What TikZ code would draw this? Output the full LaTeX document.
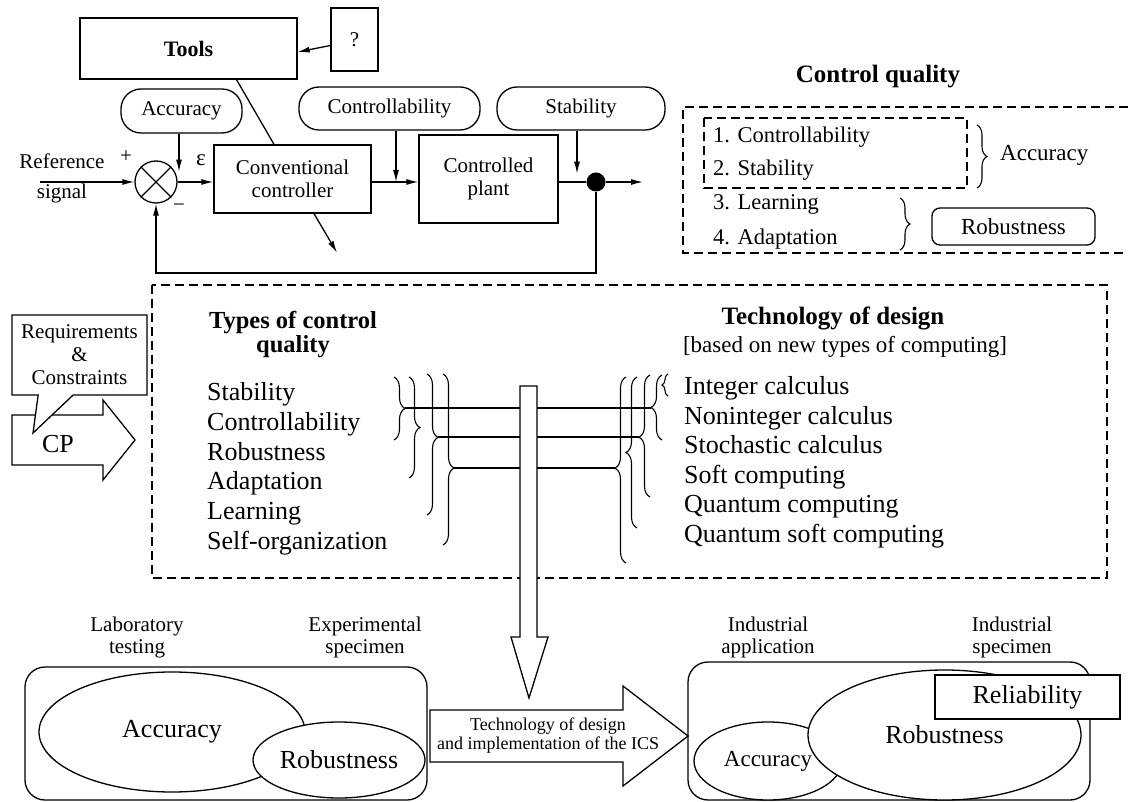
\documentclass[tikz,border=0pt]{standalone}
\usepackage{fontspec}
\setmainfont{Liberation Serif}
\usetikzlibrary{arrows.meta,positioning,shapes.geometric,shapes.callouts,decorations.pathreplacing}
\tikzstyle{block} = [rectangle, draw=black, line width=1.3pt, fill=white, text centered, align=center, inner sep=0pt]
\tikzstyle{pill} = [rectangle, rounded corners=20pt, draw=black, line width=1.3pt, text centered, inner sep=0pt]
\tikzstyle{panel} = [rectangle, rounded corners=20pt, draw=black, line width=1.3pt]
\tikzstyle{oval} = [ellipse, draw=black, fill=white, line width=1.3pt, inner sep=0pt]
\tikzstyle{conn} = [draw=black, line width=1.3pt, -{Latex[length=12pt,width=6pt]}]
\tikzstyle{wire} = [draw=black, line width=1.3pt]
\tikzstyle{dbox} = [draw=black, line width=1.8pt, dash pattern=on 9pt off 5pt]
\tikzstyle{brc} = [draw=black, line width=1.1pt, decorate, decoration={brace, amplitude=11pt}]
\tikzstyle{fatarrow} = [draw=black, fill=white, line width=1.3pt]
\tikzstyle{txtS} = [font=\fontsize{18}{19}\selectfont, align=center]
\tikzstyle{txtM} = [font=\fontsize{21}{23}\selectfont, align=center]
\tikzstyle{txtL} = [font=\fontsize{23}{26}\selectfont]
\tikzstyle{txtXL} = [font=\fontsize{26}{28}\selectfont]
\tikzstyle{item} = [anchor=west, inner sep=0pt, text height=0.7em, text depth=0.2em]

\begin{document}
\begin{tikzpicture}[x=1pt,y=-1pt]
\useasboundingbox (0,0) rectangle (1128,802);

% control loop
\node (tools) [block, minimum width=217, minimum height=61, font=\bfseries\fontsize{22}{26}\selectfont] at (188.5,48.5) {Tools};
\node (quest) [block, minimum width=47, minimum height=63, txtM] at (354.5,39.5) {?};
\node (acc) [pill, minimum width=121, minimum height=44, txtM] at (181.5,111) {Accuracy};
\node (ctlq) [pill, minimum width=181, minimum height=43, txtM] at (389.5,108.5) {Controllability};
\node (stab) [pill, minimum width=168, minimum height=43, txtM] at (581,108.5) {Stability};
\node (sum) [circle, draw, line width=1.3pt, minimum size=42, inner sep=0pt] at (156,182) {};
\draw[wire] (sum.north west) -- (sum.south east) (sum.north east) -- (sum.south west);
\node (ctrl) [block, minimum width=157, minimum height=68, txtM] at (292.5,179) {Conventional\\controller};
\node (plant) [block, minimum width=139, minimum height=88, txtM] at (488.5,179) {Controlled\\plant};
\node (dot) [circle, fill=black, minimum size=19, inner sep=0pt] at (596,182) {};
\node (refsig) [txtM, font=\fontsize{21}{30}\selectfont] at (62,178) {Reference\\signal};
\node (plus) [txtM] at (126,157) {+};
\node (minus) [txtM] at (179,208) {−};
\node (eps) [txtM, font=\fontsize{23}{26}\selectfont] at (201,160) {ε};
\coordinate (refin) at (40,182);
\coordinate (outp) at (643,182);

\draw[conn] ([yshift=-6]quest.west) -- ([yshift=-3.5]tools.east);
\draw[wire] ([xshift=48]tools.south) -- ([xshift=-18.5]ctrl.north);
\draw[conn] (refin) -- (sum.west);
\draw[conn] (sum.east) -- (sum.east -| ctrl.west);
\draw[conn] (ctrl.east |- dot) -- (plant.west |- dot);
\draw[wire] (plant.east |- dot) -- (dot);
\draw[conn] (dot) -- (outp);
\draw[conn] (dot) -- ++(0,91) -| (sum.south);
\draw[conn] ([xshift=-2.5]acc.south) -- ++(0,38);
\draw[conn] ([xshift=6.5]ctlq.south) -- ([xshift=6.5]ctlq.south |- dot);
\draw[conn] ([xshift=-4]stab.south) -- ++(0,43);
\draw[conn] ([xshift=21.5]ctrl.south) -- ++(23,39);

% control quality
\node (cqtitle) [font=\bfseries\fontsize{25}{28}\selectfont] at (878,77) {Control quality};
\draw[dbox] (1128,107) -- (683,107) -- (683,253) -- (1128,253);
\draw[dbox] (704,118) rectangle (967,188);
\node (cq1) [item, font=\fontsize{22.5}{26}\selectfont] at (713,140) {1. Controllability};
\node (cq2) [item, font=\fontsize{22.5}{26}\selectfont] at (713,173) {2. Stability};
\node (cq3) [item, font=\fontsize{22.5}{26}\selectfont] at (713,207) {3. Learning};
\node (cq4) [item, font=\fontsize{22.5}{26}\selectfont] at (713,242) {4. Adaptation};
\draw[brc, decoration={amplitude=10pt}] (977,125) -- (977,188);
\node (cqacc) [item, txtL] at (1000,158) {Accuracy};
\draw[brc, decoration={amplitude=10pt}] (900,198) -- (900,250);
\node (cqrob) [rectangle, rounded corners=8pt, draw, line width=1.3pt, minimum width=163, minimum height=37, txtL] at (1013.5,226.5) {Robustness};

% types and technology
\draw[dbox] (152,285) rectangle (1107,578);
\draw[fatarrow] (12,415) -- (103,415) -- (103,400) -- (135,440) -- (103,480) -- (103,465) -- (12,465) -- cycle;
\node (req) [rectangle callout, draw, fill=white, line width=1.3pt, minimum width=135, minimum height=80, callout absolute pointer={(33,433)}, callout pointer width=35pt, txtM] at (79.5,355) {Requirements\\\&\\Constraints};
\node (cp) [txtXL] at (58,444) {CP};

\node (typeshd) [font=\bfseries\fontsize{24.5}{24}\selectfont, align=center] at (293,335) {Types of control\\quality};
\node (techhd) [font=\bfseries\fontsize{25}{28}\selectfont] at (833,318) {Technology of design};
\node (techsub) [font=\fontsize{23}{26}\selectfont] at (845,347) {[based on new types of computing]};

\foreach \t [count=\i] in {Stability, Controllability, Robustness, Adaptation, Learning, Self-organization}
  \node (ty\i) [item, font=\fontsize{26}{30}\selectfont] at (207,{398+29.8*(\i-1)}) {\t};
\foreach \t [count=\i] in {Integer calculus, Noninteger calculus, Stochastic calculus, Soft computing, Quantum computing, Quantum soft computing}
  \node (te\i) [item, font=\fontsize{26}{30}\selectfont] at (684,{392+29.6*(\i-1)}) {\t};

% braces
\draw[brc] (394,377) -- (394,440);
\draw[brc] (409,377) -- (409,478);
\draw[brc, decoration={aspect=0.45}] (427,374) -- (427,515);
\draw[brc, decoration={aspect=0.55}] (443,374) -- (443,545);
\draw[brc, decoration={amplitude=6pt}] (668,396) -- (668,374);
\draw[brc] (662,440) -- (662,375);
\draw[brc, decoration={aspect=0.49}] (650,497) -- (650,375);
\draw[brc] (637,528) -- (637,377);
\draw[brc, decoration={aspect=0.51}] (626,563) -- (626,377);
\coordinate (l1) at (405,408);
\coordinate (l3) at (438,437);
\coordinate (l4) at (454,468);
\coordinate (r1) at (651,408);
\coordinate (r2) at (639,437);
\coordinate (r4) at (615,468);
\draw[wire] (l1) -- (r1);
\draw[wire] (l3) -- (r2);
\draw[wire] (l4) -- (r4);

\draw[fatarrow] (520,386) -- (537,386) -- (537,637) -- (548,637) -- (529,698) -- (511,637) -- (520,637) -- cycle;

% laboratory
\node (labtest) [txtM, font=\fontsize{21}{22}\selectfont] at (137,637) {Laboratory\\testing};
\node (expspec) [txtM, font=\fontsize{21}{22}\selectfont] at (365,637) {Experimental\\specimen};
\node (labbox) [panel, minimum width=402, minimum height=133] at (226,733.5) {};
\node (labacc) [oval, minimum width=266, minimum height=120, txtXL] at (172,732) {Accuracy};
\node (labrob) [oval, minimum width=172, minimum height=76, txtXL] at (339,760) {Robustness};

\draw[fatarrow] (430,710) -- (623,710) -- (623,686) -- (688,736) -- (623,786) -- (623,762) -- (430,762) -- cycle;
\node (techics) [txtS] at (548,736) {Technology of design\\and implementation of the ICS};

% industry
\node (indapp) [txtM, font=\fontsize{21}{22}\selectfont] at (768,637) {Industrial\\application};
\node (indspec) [txtM, font=\fontsize{21}{22}\selectfont] at (1012,637) {Industrial\\specimen};
\node (indbox) [panel, minimum width=402, minimum height=138] at (889,731) {};
\node (indacc) [oval, minimum width=148, minimum height=78, font=\fontsize{23}{26}\selectfont] at (768,761) {Accuracy};
\node (indrob) [oval, minimum width=273, minimum height=130, txtXL] at (944.5,735) {Robustness};
\node (relia) [block, minimum width=185, minimum height=44, txtXL] at (1027.5,697) {Reliability};
\end{tikzpicture}
\end{document}
